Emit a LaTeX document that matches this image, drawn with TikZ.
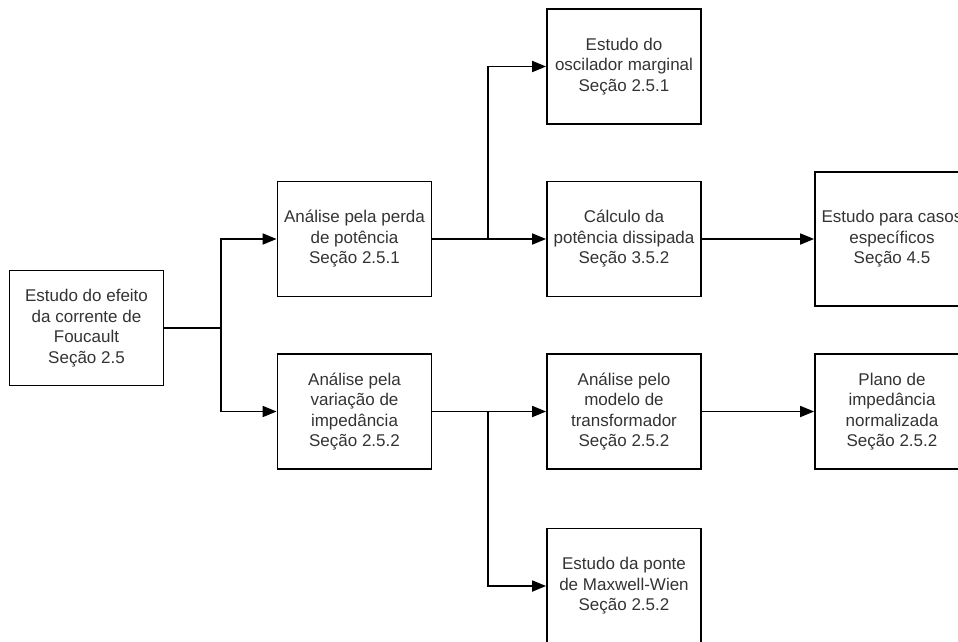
\documentclass[tikz,border=0pt]{standalone}
\usepackage{fontspec}
\setmainfont{Liberation Sans}
\usetikzlibrary{arrows.meta}

\begin{document}
\begin{tikzpicture}[x=1pt,y=-1pt,->,>={Triangle[length=14pt,width=11pt]},line width=1.8pt,
    bloco/.style={shape=rectangle,draw=black,align=center,text=black!80,
        minimum width=154pt,minimum height=115pt,inner sep=2pt,
        font=\fontsize{17}{20.5}\selectfont}]
                \useasboundingbox (0,0) rectangle (958,641);
                \node[bloco](efeito)at(86.5, 328){Estudo do efeito\\da corrente de\\Foucault\\Seção 2.5};
                \node[bloco](perda)at(354.5, 239){Análise pela perda\\de potência\\Seção 2.5.1};
                \node[bloco](variacao)at(354.5, 411.5){Análise pela\\variação de\\impedância\\Seção 2.5.2};
                \node[bloco](oscilador)at(624, 66.5){Estudo do\\oscilador marginal\\Seção 2.5.1};
                \node[bloco](calculo)at(624, 239){Cálculo da\\potência dissipada\\Seção 3.5.2};
                \node[bloco,minimum height=134pt](casos)at(892, 239){Estudo para casos\\específicos\\Seção 4.5};
                \node[bloco](modelo)at(624, 411.5){Análise pelo\\modelo de\\transformador\\Seção 2.5.2};
                \node[bloco](plano)at(892, 411.5){Plano de\\impedância\\normalizada\\Seção 2.5.2};
                \node[bloco](ponte)at(624, 586){Estudo da ponte\\de Maxwell-Wien\\Seção 2.5.2};

                \coordinate(j1)at(221, 328);
                \coordinate(j2)at(488, 239);
                \coordinate(j3)at(488, 411.5);
                \draw[-](efeito) -- (j1);
                \draw(j1) |- (perda);
                \draw(j1) |- (variacao);
                \draw(perda) -- (calculo);
                \draw(j2) |- (oscilador);
                \draw(variacao) -- (modelo);
                \draw(j3) |- (ponte);
                \draw(calculo) -- (casos);
                \draw(modelo) -- (plano);
            \end{tikzpicture}
\end{document}
